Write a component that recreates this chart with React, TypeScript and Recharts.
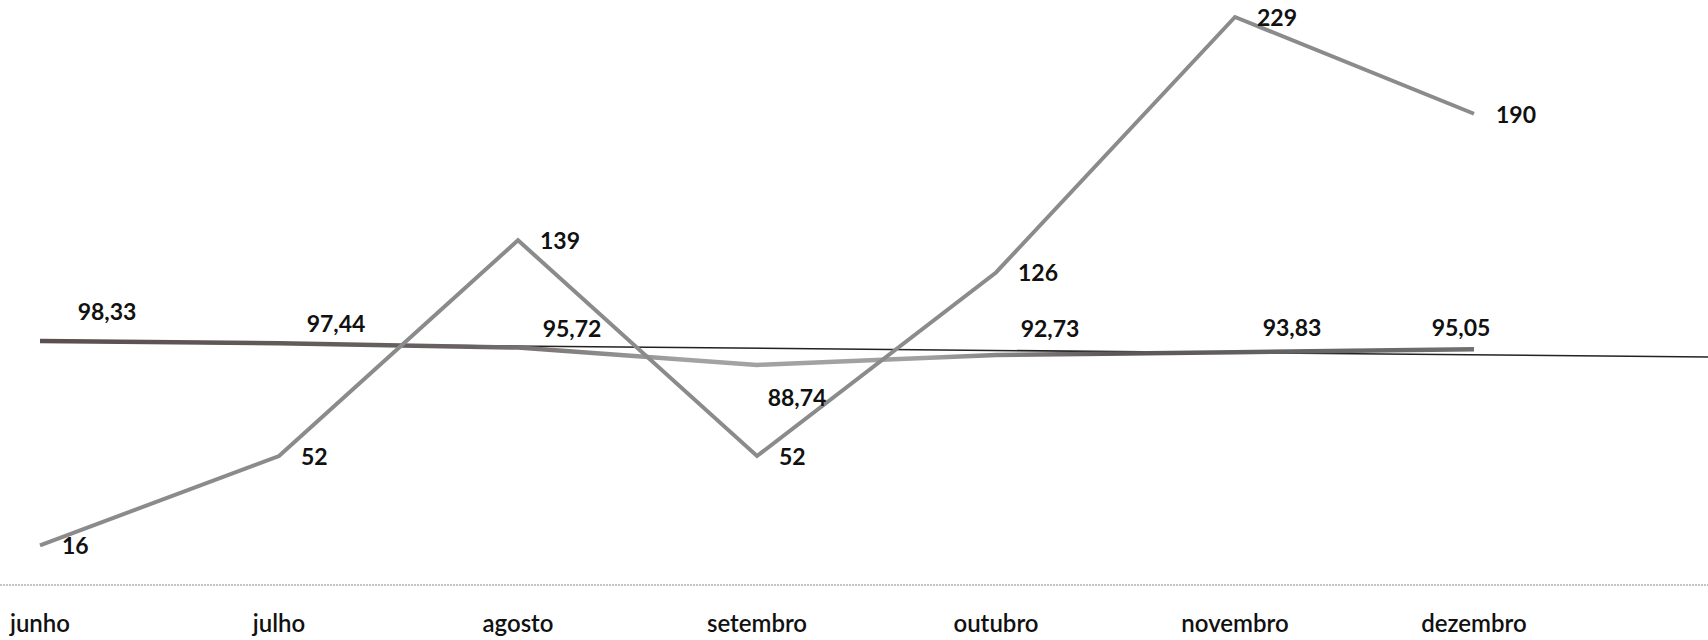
import React from "react";
import {
  LineChart,
  Line,
  XAxis,
  YAxis,
  ReferenceLine,
  LabelList,
} from "recharts";

const meses = ["junho", "julho", "agosto", "setembro", "outubro", "novembro", "dezembro"];
const quantidade = [16, 52, 139, 52, 126, 229, 190];
const percentual = [98.33, 97.44, 95.72, 88.74, 92.73, 93.83, 95.05];

// linha fina de referência (ligeiramente inclinada no original)
const linhaRef = [
  { x: "junho", y: 98.1 },
  { x: "dezembro", y: 92.8 },
];

const data = meses.map((mes, i) => ({
  mes,
  quantidade: quantidade[i],
  percentual: percentual[i],
}));

// deslocamento manual dos rótulos de % (como no gráfico original)
const pctLabelShift = [
  [67, -30],
  [57, -20],
  [54, -20],
  [40, 32],
  [54, -27],
  [57, -25],
  [-13, -22],
];

const W = 1708;
const H = 640;
const FONT = "Lato, 'Open Sans', sans-serif";

const fmt = (v: number) => v.toFixed(2).replace(".", ",");

const PctLabel = (props: any) => {
  const { x, y, value, index } = props;
  const [dx, dy] = pctLabelShift[index] || [0, -20];
  return (
    <text
      x={x + dx}
      y={y + dy}
      textAnchor="middle"
      dominantBaseline="central"
      fontFamily={FONT}
      fontWeight={700}
      fontSize={23}
      fill="#111"
    >
      {fmt(value)}
    </text>
  );
};

const QtdLabel = (props: any) => {
  const { x, y, value } = props;
  return (
    <text
      x={x + 22}
      y={y}
      textAnchor="start"
      dominantBaseline="central"
      fontFamily={FONT}
      fontWeight={700}
      fontSize={23}
      fill="#111"
    >
      {value}
    </text>
  );
};

const MesTick = (props: any) => {
  const { x, y, payload } = props;
  return (
    <text
      x={x}
      y={y + 37}
      textAnchor="middle"
      dominantBaseline="central"
      fontFamily={FONT}
      fontWeight={600}
      fontSize={24}
      fill="#111"
    >
      {payload.value}
    </text>
  );
};

// prolonga o segmento até a borda direita
const LinhaEstendida = (p: any) => {
  const { x1, y1, x2, y2 } = p;
  if ([x1, y1, x2, y2].some((v) => typeof v !== "number" || isNaN(v))) return null;
  const slope = (y2 - y1) / (x2 - x1 || 1);
  const xEnd = W;
  const yEnd = y1 + slope * (xEnd - x1);
  return <line x1={x1} y1={y1} x2={xEnd} y2={yEnd} stroke="#222" strokeWidth={1.5} />;
};

export default function App() {
  return (
    <div style={{ position: "absolute", left: 0, top: 0, width: W, height: H, background: "#fff" }}>
      <LineChart
        width={W}
        height={H}
        data={data}
        margin={{ top: 17, right: 0, bottom: 0, left: 0 }}
      >
        <defs>
          <linearGradient id="pctGrad" x1="0" y1="0" x2="1" y2="0">
            <stop offset="0%" stopColor="#5a4e4e" />
            <stop offset="30%" stopColor="#6a6262" />
            <stop offset="45%" stopColor="#a3a3a3" />
            <stop offset="62%" stopColor="#a0a0a0" />
            <stop offset="75%" stopColor="#5c5656" />
            <stop offset="100%" stopColor="#707070" />
          </linearGradient>
        </defs>

        <XAxis
          dataKey="mes"
          height={55}
          padding={{ left: 40, right: 234 }}
          tickLine={false}
          tickSize={0}
          tickMargin={0}
          interval={0}
          axisLine={{ stroke: "#8a8a8a", strokeWidth: 1.2, strokeDasharray: "2 1" }}
          tick={<MesTick />}
        />
        <YAxis hide domain={[0, 229]} />

        <ReferenceLine
          segment={linhaRef}
          ifOverflow="visible"
          shape={<LinhaEstendida />}
        />

        <Line
          type="linear"
          dataKey="percentual"
          stroke="url(#pctGrad)"
          strokeWidth={4.5}
          dot={false}
          activeDot={false}
          isAnimationActive={false}
        >
          <LabelList dataKey="percentual" content={<PctLabel />} />
        </Line>

        <Line
          type="linear"
          dataKey="quantidade"
          stroke="#8b8b8b"
          strokeWidth={4}
          dot={false}
          activeDot={false}
          isAnimationActive={false}
        >
          <LabelList dataKey="quantidade" content={<QtdLabel />} />
        </Line>
      </LineChart>
    </div>
  );
}
